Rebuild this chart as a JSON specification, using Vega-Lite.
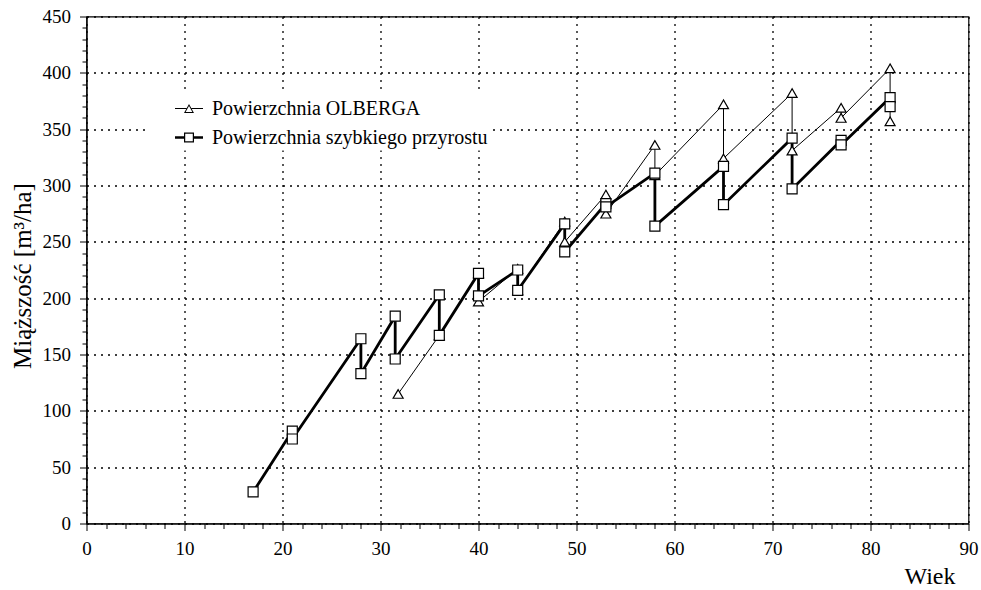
{
  "$schema": "https://vega.github.io/schema/vega-lite/v6.json",
  "width": 882,
  "height": 507,
  "autosize": "none",
  "padding": {"left": 86.5, "top": 16.5, "right": 12.5, "bottom": 66.5},
  "background": "white",
  "config": {"view": {"stroke": "black", "strokeWidth": 1.2}, "font": "Liberation Serif"},
  "data": {
    "values": [
      {"seria": "Powierzchnia OLBERGA", "i": 1, "wiek": 31.8, "m": 115},
      {"seria": "Powierzchnia OLBERGA", "i": 2, "wiek": 36, "m": 167},
      {"seria": "Powierzchnia OLBERGA", "i": 3, "wiek": 40, "m": 222},
      {"seria": "Powierzchnia OLBERGA", "i": 4, "wiek": 40, "m": 197},
      {"seria": "Powierzchnia OLBERGA", "i": 5, "wiek": 44, "m": 226},
      {"seria": "Powierzchnia OLBERGA", "i": 6, "wiek": 44, "m": 207},
      {"seria": "Powierzchnia OLBERGA", "i": 7, "wiek": 48.8, "m": 268},
      {"seria": "Powierzchnia OLBERGA", "i": 8, "wiek": 48.8, "m": 250},
      {"seria": "Powierzchnia OLBERGA", "i": 9, "wiek": 53, "m": 292},
      {"seria": "Powierzchnia OLBERGA", "i": 10, "wiek": 53, "m": 275},
      {"seria": "Powierzchnia OLBERGA", "i": 11, "wiek": 58, "m": 336},
      {"seria": "Powierzchnia OLBERGA", "i": 12, "wiek": 58, "m": 309},
      {"seria": "Powierzchnia OLBERGA", "i": 13, "wiek": 65, "m": 372},
      {"seria": "Powierzchnia OLBERGA", "i": 14, "wiek": 65, "m": 324},
      {"seria": "Powierzchnia OLBERGA", "i": 15, "wiek": 72, "m": 382},
      {"seria": "Powierzchnia OLBERGA", "i": 16, "wiek": 72, "m": 331},
      {"seria": "Powierzchnia OLBERGA", "i": 17, "wiek": 77, "m": 369},
      {"seria": "Powierzchnia OLBERGA", "i": 18, "wiek": 77, "m": 360},
      {"seria": "Powierzchnia OLBERGA", "i": 19, "wiek": 82, "m": 404},
      {"seria": "Powierzchnia OLBERGA", "i": 20, "wiek": 82, "m": 357},
      {"seria": "Powierzchnia szybkiego przyrostu", "i": 1, "wiek": 17, "m": 28},
      {"seria": "Powierzchnia szybkiego przyrostu", "i": 2, "wiek": 21, "m": 82},
      {"seria": "Powierzchnia szybkiego przyrostu", "i": 3, "wiek": 21, "m": 75},
      {"seria": "Powierzchnia szybkiego przyrostu", "i": 4, "wiek": 28, "m": 164},
      {"seria": "Powierzchnia szybkiego przyrostu", "i": 5, "wiek": 28, "m": 133},
      {"seria": "Powierzchnia szybkiego przyrostu", "i": 6, "wiek": 31.5, "m": 184},
      {"seria": "Powierzchnia szybkiego przyrostu", "i": 7, "wiek": 31.5, "m": 146},
      {"seria": "Powierzchnia szybkiego przyrostu", "i": 8, "wiek": 36, "m": 203},
      {"seria": "Powierzchnia szybkiego przyrostu", "i": 9, "wiek": 36, "m": 167},
      {"seria": "Powierzchnia szybkiego przyrostu", "i": 10, "wiek": 40, "m": 222},
      {"seria": "Powierzchnia szybkiego przyrostu", "i": 11, "wiek": 40, "m": 202},
      {"seria": "Powierzchnia szybkiego przyrostu", "i": 12, "wiek": 44, "m": 225},
      {"seria": "Powierzchnia szybkiego przyrostu", "i": 13, "wiek": 44, "m": 207},
      {"seria": "Powierzchnia szybkiego przyrostu", "i": 14, "wiek": 48.8, "m": 266},
      {"seria": "Powierzchnia szybkiego przyrostu", "i": 15, "wiek": 48.8, "m": 241},
      {"seria": "Powierzchnia szybkiego przyrostu", "i": 16, "wiek": 53, "m": 284},
      {"seria": "Powierzchnia szybkiego przyrostu", "i": 17, "wiek": 53, "m": 281},
      {"seria": "Powierzchnia szybkiego przyrostu", "i": 18, "wiek": 58, "m": 311},
      {"seria": "Powierzchnia szybkiego przyrostu", "i": 19, "wiek": 58, "m": 264},
      {"seria": "Powierzchnia szybkiego przyrostu", "i": 20, "wiek": 65, "m": 317},
      {"seria": "Powierzchnia szybkiego przyrostu", "i": 21, "wiek": 65, "m": 283},
      {"seria": "Powierzchnia szybkiego przyrostu", "i": 22, "wiek": 72, "m": 342},
      {"seria": "Powierzchnia szybkiego przyrostu", "i": 23, "wiek": 72, "m": 297},
      {"seria": "Powierzchnia szybkiego przyrostu", "i": 24, "wiek": 77, "m": 340},
      {"seria": "Powierzchnia szybkiego przyrostu", "i": 25, "wiek": 77, "m": 336},
      {"seria": "Powierzchnia szybkiego przyrostu", "i": 26, "wiek": 82, "m": 378},
      {"seria": "Powierzchnia szybkiego przyrostu", "i": 27, "wiek": 82, "m": 370}
    ]
  },
  "layer": [
    {
      "mark": {"type": "line", "color": "black"},
      "encoding": {
        "x": {
          "field": "wiek", "type": "quantitative",
          "scale": {"domain": [0, 90], "nice": false, "zero": false},
          "axis": {
            "orient": "bottom",
            "values": [0, 10, 20, 30, 40, 50, 60, 70, 80, 90],
            "grid": true, "gridColor": "black", "gridDash": [2, 5], "gridWidth": 1.3, "gridOpacity": 1,
            "tickSize": 7, "tickColor": "black", "tickWidth": 1,
            "domainColor": "black", "domainWidth": 1.2,
            "labelFont": "Liberation Serif", "labelFontSize": 19, "labelColor": "black",
            "labelPadding": 18, "labelBaseline": "middle", "labelFlush": false, "labelOverlap": false,
            "title": "Wiek", "titleFont": "Liberation Serif", "titleFontSize": 24, "titleFontWeight": "normal",
            "titleColor": "black", "titleX": 868.5, "titleY": 60, "titleAlign": "right", "titleBaseline": "alphabetic"
          }
        },
        "y": {
          "field": "m", "type": "quantitative",
          "scale": {"domain": [0, 450], "nice": false},
          "axis": {
            "orient": "left",
            "values": [0, 50, 100, 150, 200, 250, 300, 350, 400, 450],
            "grid": true, "gridColor": "black", "gridDash": [2, 5], "gridWidth": 1.3, "gridOpacity": 1,
            "tickSize": 7, "tickColor": "black", "tickWidth": 1,
            "domainColor": "black", "domainWidth": 1.2,
            "labelFont": "Liberation Serif", "labelFontSize": 19, "labelColor": "black",
            "labelPadding": 9, "labelFlush": false, "labelOverlap": false,
            "title": "Miąższość [m³/ha]", "titleFont": "Liberation Serif", "titleFontSize": 25, "titleFontWeight": "normal",
            "titleColor": "black", "titleX": -64.5, "titleY": 259, "titleAngle": -90, "titleAlign": "center", "titleBaseline": "middle"
          }
        },
        "strokeWidth": {
          "field": "seria", "type": "nominal",
          "scale": {"range": [1, 2.8]},
          "legend": null
        },
        "order": {"field": "i", "type": "quantitative"}
      }
    },
    {
      "mark": {"type": "point", "filled": true, "fill": "white", "stroke": "black", "strokeWidth": 1.2, "size": 100, "opacity": 1},
      "encoding": {
        "x": {
          "field": "wiek", "type": "quantitative",
          "axis": {
            "orient": "bottom",
            "values": [2, 4, 6, 8, 12, 14, 16, 18, 22, 24, 26, 28, 32, 34, 36, 38, 42, 44, 46, 48, 52, 54, 56, 58, 62, 64, 66, 68, 72, 74, 76, 78, 82, 84, 86, 88],
            "grid": false, "labels": false, "domain": false, "tickSize": 5, "tickColor": "black", "tickWidth": 1, "title": null
          }
        },
        "y": {
          "field": "m", "type": "quantitative",
          "axis": {
            "orient": "left",
            "values": [10, 20, 30, 40, 60, 70, 80, 90, 110, 120, 130, 140, 160, 170, 180, 190, 210, 220, 230, 240, 260, 270, 280, 290, 310, 320, 330, 340, 360, 370, 380, 390, 410, 420, 430, 440],
            "grid": false, "labels": false, "domain": false, "tickSize": 4.5, "tickColor": "black", "tickWidth": 1, "title": null
          }
        },
        "shape": {
          "field": "seria", "type": "nominal",
          "scale": {"domain": ["Powierzchnia OLBERGA", "Powierzchnia szybkiego przyrostu"], "range": ["triangle-up", "square"]},
          "legend": null
        }
      }
    },
    {
      "mark": {"type": "point", "filled": true, "fill": "black", "strokeWidth": 0, "size": 784, "opacity": 0},
      "encoding": {
        "x": {"field": "wiek", "type": "quantitative", "axis": null},
        "y": {"field": "m", "type": "quantitative", "axis": null},
        "shape": {
          "field": "seria", "type": "nominal",
          "scale": {
            "domain": ["Powierzchnia OLBERGA", "Powierzchnia szybkiego przyrostu"],
            "range": [
              "M-1,-0.036H-0.18V0.036H-1Z M0.18,-0.036H1V0.036H0.18Z M0,-0.32L0.357,0.32L-0.357,0.32Z M0,-0.18L-0.24,0.25L0.24,0.25Z",
              "M-1,-0.093H-0.357V0.093H-1Z M0.357,-0.093H1V0.093H0.357Z M-0.357,-0.357H0.357V0.357H-0.357Z M-0.27,-0.27V0.27H0.27V-0.27Z"
            ]
          },
          "legend": {
            "title": null, "orient": "none", "legendX": 58.5, "legendY": 75,
            "fillColor": "white", "strokeColor": null,
            "symbolSize": 784, "symbolOpacity": 1, "symbolFillColor": "black", "symbolStrokeWidth": 0, "symbolOffset": 27,
            "labelFont": "Liberation Serif", "labelFontSize": 20, "labelColor": "black",
            "labelOffset": 9, "labelLimit": 400, "rowPadding": 5, "padding": 3
          }
        }
      }
    }
  ],
  "resolve": {
    "scale": {"shape": "independent"},
    "axis": {"x": "independent", "y": "independent"}
  }
}
